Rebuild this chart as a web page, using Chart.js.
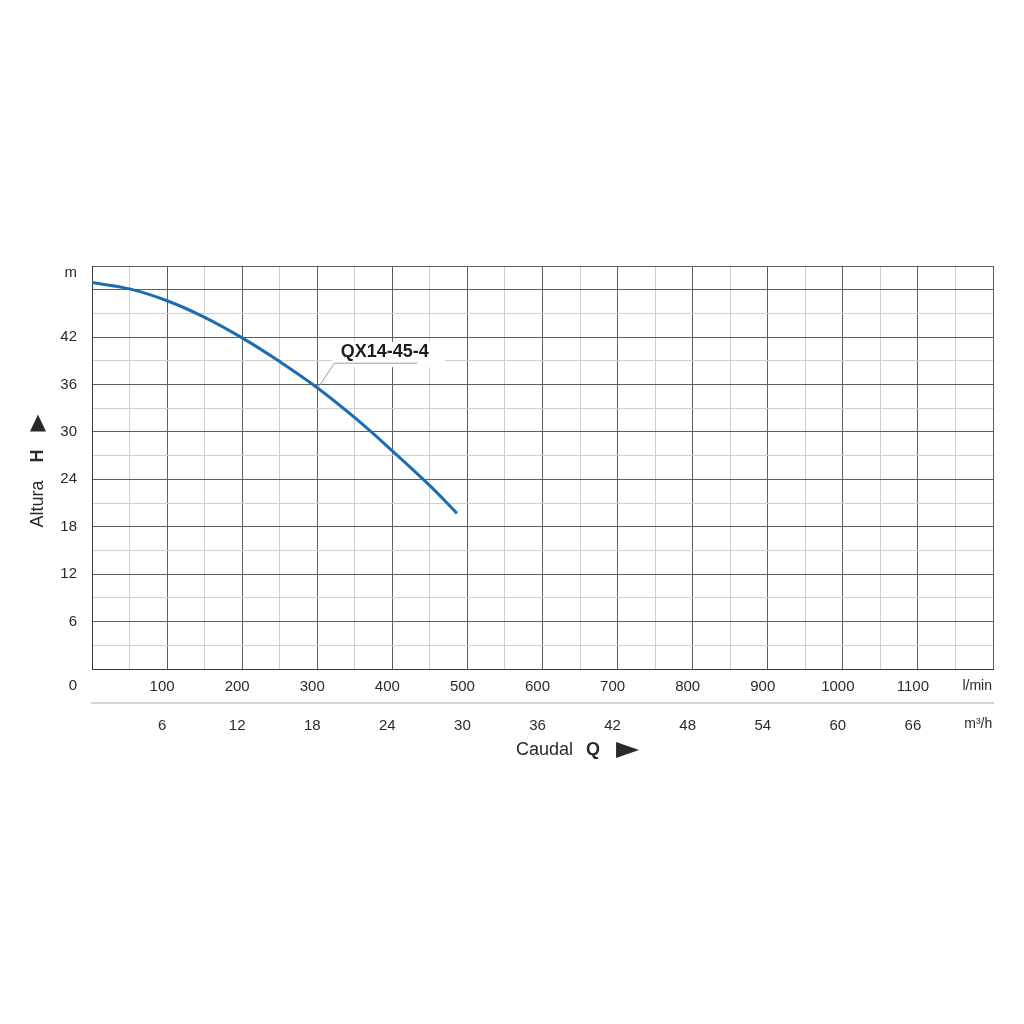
<!DOCTYPE html>
<html lang="es">
  <head>
    <meta charset="utf-8" />
    <script src="https://cdn.jsdelivr.net/npm/chart.js"></script>
    <style>
      body {
        margin: 0;
        background: #fff;
      }
      .canvas {
        width: 1024px;
        height: 1024px;
      }
    </style>
    <title>QX14-45-4</title>
  </head>

  <body>
    <div class="canvas">
      <canvas id="myChart" width="1024" height="1024"></canvas>
    </div>

    <script>
      // caudal (l/min) y altura (m)
      const flowLmin = [0, 50, 100, 150, 200, 250, 300, 350, 400, 450, 486];
      const headM = [48.9, 48.1, 46.6, 44.5, 41.9, 38.9, 35.6, 31.8, 27.6, 23.2, 19.7];
      const modelName = "QX14-45-4";

      // etiquetas de los ejes
      const lminTicks = [100, 200, 300, 400, 500, 600, 700, 800, 900, 1000, 1100];
      const m3hTicks = [6, 12, 18, 24, 30, 36, 42, 48, 54, 60, 66];
      const headTicks = [6, 12, 18, 24, 30, 36, 42];

      const darkGrid = "#5e5e5e";
      const lightGrid = "#cfcfcf";
      const textColor = "#2a2a2a";
      const font = "Liberation Sans";

      const points = flowLmin.map((q, i) => ({ x: q, y: headM[i] }));

      // textos extra: unidades, titulos y etiqueta del modelo
      const extras = {
        id: "extras",
        beforeDatasetsDraw(chart) {
          const { ctx, scales } = chart;
          const x = scales.x;
          const y = scales.y;
          ctx.save();
          ctx.fillStyle = "#fff";
          const l = x.getPixelForValue(320);
          const r = x.getPixelForValue(470);
          const t = y.getPixelForValue(41.4);
          const b = y.getPixelForValue(38.2);
          ctx.fillRect(l, t, r - l, b - t);
          ctx.restore();
        },
        afterDraw(chart) {
          const { ctx, scales, chartArea } = chart;
          const x = scales.x;
          const y = scales.y;
          const x2 = scales.x2;
          ctx.save();
          ctx.fillStyle = textColor;
          ctx.font = "15px " + font;
          ctx.textBaseline = "middle";

          // m y 0
          ctx.textAlign = "right";
          ctx.fillText("m", 77, chartArea.top + 7);
          ctx.fillText("0", 77, x.top + 17);

          // unidades
          ctx.textAlign = "center";
          ctx.font = "14px " + font;
          ctx.fillText("l/min", x.getPixelForValue(1175) + 3, x.top + 17);
          ctx.fillText("m³/h", x.getPixelForValue(1175) + 4, x2.top + 21);

          // titulo eje x
          const cx = x.getPixelForValue(650);
          const cy = x2.bottom + 15;
          ctx.textAlign = "left";
          ctx.font = "18px " + font;
          ctx.fillText("Caudal", cx - 64, cy);
          ctx.font = "bold 18px " + font;
          ctx.fillText("Q", cx + 6, cy);
          ctx.beginPath();
          ctx.moveTo(cx + 36, cy - 8);
          ctx.lineTo(cx + 59, cy);
          ctx.lineTo(cx + 36, cy + 8);
          ctx.closePath();
          ctx.fill();

          // titulo eje y
          ctx.translate(38, (chartArea.top + chartArea.bottom) / 2);
          ctx.rotate(-Math.PI / 2);
          ctx.font = "18px " + font;
          ctx.fillText("Altura", -60, 0);
          ctx.font = "bold 18px " + font;
          ctx.fillText("H", 5, 0);
          ctx.beginPath();
          ctx.moveTo(36, -8);
          ctx.lineTo(53, 0);
          ctx.lineTo(36, 8);
          ctx.closePath();
          ctx.fill();
          ctx.setTransform(1, 0, 0, 1, 0, 0);

          // etiqueta del modelo con linea guia
          ctx.strokeStyle = "#9a9a9a";
          ctx.lineWidth = 1;
          ctx.beginPath();
          ctx.moveTo(x.getPixelForValue(301), y.getPixelForValue(35.6));
          ctx.lineTo(x.getPixelForValue(323), y.getPixelForValue(38.7));
          ctx.lineTo(x.getPixelForValue(433), y.getPixelForValue(38.7));
          ctx.stroke();
          ctx.font = "bold 18px " + font;
          ctx.textAlign = "center";
          ctx.fillStyle = "#1e1e1e";
          ctx.fillText(modelName, x.getPixelForValue(390), y.getPixelForValue(40.1));
          ctx.restore();
        },
      };

      const ctx = document.getElementById("myChart");
      window.myChart = new Chart(ctx, {
        type: "line",
        plugins: [extras],
        data: {
          datasets: [
            {
              label: modelName,
              data: points,
              borderColor: "#1b6db3",
              borderWidth: 3,
              pointRadius: 0,
              tension: 0.4,
              xAxisID: "x",
            },
          ],
        },
        options: {
          responsive: false,
          animation: false,
          layout: { padding: { left: 0, top: 266, right: 31, bottom: 289 } },
          plugins: { legend: { display: false }, tooltip: { enabled: false } },
          scales: {
            x: {
              type: "linear",
              position: "bottom",
              min: 0,
              max: 1200,
              afterFit: (scale) => {
                scale.height = 34;
              },
              ticks: {
                stepSize: 50,
                autoSkip: false,
                maxRotation: 0,
                padding: 9,
                labelOffset: -5,
                color: textColor,
                font: { family: font, size: 15 },
                callback: (v) => (lminTicks.includes(v) ? String(v) : ""),
              },
              grid: {
                drawTicks: false,
                color: (c) => (c.tick.value % 100 === 0 ? darkGrid : lightGrid),
              },
              border: { color: "#3c3c3c" },
            },
            x2: {
              type: "linear",
              position: "bottom",
              min: 0,
              max: 72,
              afterFit: (scale) => {
                scale.height = 32;
              },
              ticks: {
                stepSize: 6,
                autoSkip: false,
                maxRotation: 0,
                padding: 14,
                labelOffset: -5,
                color: textColor,
                font: { family: font, size: 15 },
                callback: (v) => (m3hTicks.includes(v) ? String(v) : ""),
              },
              grid: { display: false, drawTicks: false },
              border: { display: true, color: "#d4d4d4", width: 2 },
            },
            y: {
              type: "linear",
              min: 0,
              max: 51,
              afterFit: (scale) => {
                scale.width = 92;
              },
              ticks: {
                stepSize: 3,
                autoSkip: false,
                padding: 15,
                color: textColor,
                font: { family: font, size: 15 },
                callback: (v) => (headTicks.includes(v) ? String(v) : ""),
              },
              grid: {
                drawTicks: false,
                color: (c) =>
                  c.tick.value % 6 === 0 || c.tick.value === 51 ? darkGrid : lightGrid,
              },
              border: { color: "#3c3c3c" },
            },
          },
        },
      });
    </script>
  </body>
</html>
